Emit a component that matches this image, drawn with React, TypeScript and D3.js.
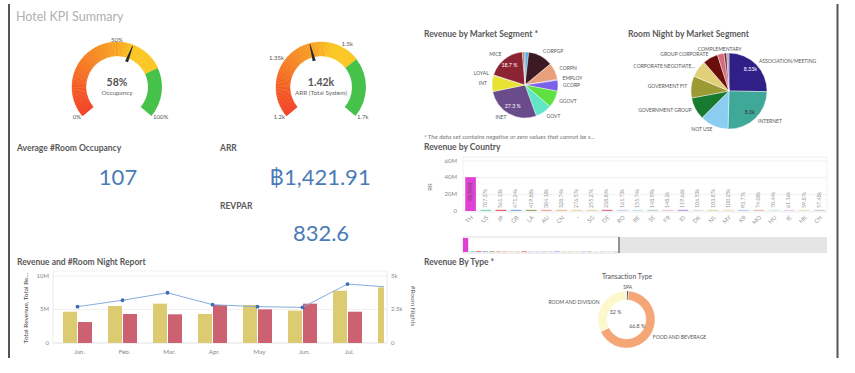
import React from 'react';
import * as d3 from 'd3';

const FONT = 'Lato, "Open Sans", "DejaVu Sans", sans-serif';
const TITLE = '#595959';

// ---------- Gauges ----------
const gaugeNames = ['Occupancy', 'ARR (Total System)'];
const gaugeValueLabels = ['58%', '1.42k'];
const gaugeMin = [0, 1200];
const gaugeMax = [1, 1700];
const gaugeValues = [0.58, 1421.91];
const gaugeGreenFrom = [0.75, 1550];
const gaugeTicks = [[0, 0.5, 1], [1200, 1350, 1500, 1700]];
const gaugeTickLabels = [['0%', '50%', '100%'], ['1.2k', '1.35k', '1.5k', '1.7k']];

// ---------- KPIs ----------
const kpiTitles = ['Average #Room Occupancy', 'ARR', 'REVPAR'];
const kpiValues = ['107', '฿1,421.91', '832.6'];

// ---------- Revenue by Market Segment ----------
const segNames = ['COMP', 'CORPGP', 'CORPN', 'EMPLOY', 'GCORP', 'GGOVT', 'GOVT', 'INET', 'INT', 'LOYAL', 'MICE', 'OTA', 'WALKIN'];
const segShare = [1.8, 12.2, 8.3, 0.4, 5.3, 8.3, 8.1, 27.3, 7.9, 0.3, 18.7, 0.8, 0.5];
const segColors = ['#50b0e8', '#3b1a23', '#e8a07a', '#a58ae6', '#7a61e8', '#60e040', '#60e6c6', '#6a4c8c', '#e8e232', '#d6cf54', '#8c2333', '#a35a32', '#8c8c8c'];
const segUnlabeled = ['COMP', 'OTA', 'WALKIN'];

// ---------- Room Night by Market Segment ----------
const rnNames = ['ASSOCIATION/MEETING', 'INTERNET', 'NOT USE', 'GOVERNMENT GROUP', 'GOVERMENT FIT', 'CORPORATE NEGOTIATE...', 'GROUP CORPORATE', 'COMPLEMENTARY', 'OTHER', 'WALK IN'];
const rnNights = [8330, 8300, 4000, 3130, 3060, 2400, 2130, 930, 370, 330];
const rnColors = ['#2f1f86', '#40a899', '#8acdf0', '#177a2f', '#9c9a32', '#e2cf7a', '#6a0e0c', '#d66a7e', '#7a1f45', '#a8a8a8'];
const rnUnlabeled = ['OTHER', 'WALK IN'];

// ---------- Revenue by Country ----------
const countries = ['TH', 'US', 'JP', 'GB', 'LA', 'AU', 'CN', '-', 'SG', 'DE', 'RO', 'BE', 'SE', 'FR', 'ID', 'DK', 'NL', 'MY', 'KR', 'MO', 'HU', 'IE', 'HK', 'CH'];
const countryRevenue = [40590000, 787370, 561130, 471240, 419880, 384180, 328740, 276570, 255270, 238840, 161730, 155740, 148590, 148200, 119660, 106530, 103870, 100250, 93770, 74080, 70440, 61160, 59870, 57480];
const countryColors = ['#e040d4', '#7fd8c0', '#e06060', '#80b0e0', '#a0a870', '#f0a8a0', '#f0c090', '#f0d8a8', '#e8d8b0', '#e07090', '#d8d0f0', '#c8e0f0', '#b8d8d0', '#f0c8d8', '#c0a0e0', '#e0e0e0', '#d0e8b0', '#f0e0c0', '#c0d0f0', '#e8c0b0', '#d0f0e0', '#f0d0f0', '#e0e8c0', '#d0d0d0'];
const countryTotalCount = 56;
const countryTicks = [0, 20e6, 40e6, 60e6];

// ---------- Revenue and #Room Night Report ----------
const months = ['Jan.', 'Feb.', 'Mar.', 'Apr.', 'May', 'Jun.', 'Jul.', 'Aug.'];
const totalRevenue = [4.67e6, 5.52e6, 5.87e6, 4.33e6, 5.67e6, 4.83e6, 7.8e6, 8.3e6];
const totalRevenue2 = [3.13e6, 4.33e6, 4.28e6, 5.67e6, 5.02e6, 5.87e6, 4.67e6, 4.5e6];
const roomNights = [2710, 3190, 3750, 2860, 2710, 2660, 4400, 4150];
const revTicks = [0, 5e6, 10e6];
const rnTicks = [0, 2500, 5000];

// ---------- Revenue By Type ----------
const typeNames = ['SPA', 'FOOD AND BEVERAGE', 'ROOM AND DIVISION'];
const typeShare = [1.2, 66.8, 32];
const typeColors = ['#4d5d75', '#f4a676', '#fdf7cc'];

const fmtShort = (v: number) => {
  const [d, s] = v >= 1e6 ? [1e6, 'M'] : [1e3, 'k'];
  return String(+(v / d).toFixed(2)) + s;
};

function Gauge({ i, cx, cy }: { i: number; cx: number; cy: number }) {
  const R = 45, r = 31;
  const a0 = (-130 * Math.PI) / 180, a1 = (130 * Math.PI) / 180;
  const mn = gaugeMin[i], mx = gaugeMax[i], g = gaugeGreenFrom[i];
  const ang = d3.scaleLinear().domain([mn, mx]).range([a0, a1]);
  const col = d3.scaleLinear<string>()
    .domain([mn, mn + 0.65 * (g - mn), mn + 0.8 * (g - mn), g])
    .range(['#f23a1e', '#f7a01d', '#fbc51c', '#fbc51c']);
  const arc = d3.arc();
  const N = 90;
  const steps = d3.range(N).map(k => mn + ((g - mn) * k) / N);
  const th = ang(gaugeValues[i]);
  const p = (rad: number, off: number) => {
    const x = cx + Math.sin(th) * rad + Math.cos(th) * off;
    const y = cy - Math.cos(th) * rad + Math.sin(th) * off;
    return `${x},${y}`;
  };
  const needle = [p(27, -1.6), p(44, -0.4), p(44, 0.4), p(27, 1.6)].join(' ');
  return (
    <g>
      {steps.map((v, k) => (
        <path key={k} transform={`translate(${cx},${cy})`} fill={col(v)} stroke={col(v)} strokeWidth={0.4}
          d={arc({ innerRadius: r, outerRadius: R, startAngle: ang(v), endAngle: ang(v + (g - mn) / N) } as any) as string} />
      ))}
      <path transform={`translate(${cx},${cy})`} fill="#46c24a"
        d={arc({ innerRadius: r, outerRadius: R, startAngle: ang(g), endAngle: ang(mx) } as any) as string} />
      <polygon points={needle} fill="#2b2b2b" />
      {gaugeTicks[i].map((t, k) => {
        const a = ang(t);
        const s = Math.sin(a);
        const x = cx + s * 47;
        const y = cy - Math.cos(a) * 47;
        const anchor = s > 0.15 ? 'start' : s < -0.15 ? 'end' : 'middle';
        return (
          <text key={k} x={x} y={y} textAnchor={anchor} dominantBaseline="middle" fontSize={6} fill="#555">
            {gaugeTickLabels[i][k]}
          </text>
        );
      })}
      <text x={cx} y={cy - 1} textAnchor="middle" fontSize={10.5} fontWeight={700} fill="#555">{gaugeValueLabels[i]}</text>
      <text x={cx} y={cy + 8} textAnchor="middle" fontSize={6.3} fill="#666">{gaugeNames[i]}</text>
    </g>
  );
}

function Pie({ cx, cy, R, inner, names, values, colors, hidden, labelR, insideR, insideFmt, insideColor }: any) {
  const arcs = d3.pie<number>().sort(null).value(d => d)(values);
  const arc = d3.arc();
  const total = d3.sum(values as number[]);
  return (
    <g>
      {arcs.map((a, k) => (
        <path key={k} transform={`translate(${cx},${cy})`} fill={colors[k]} stroke="#fff" strokeWidth={0.4}
          d={arc({ innerRadius: inner, outerRadius: R, startAngle: a.startAngle, endAngle: a.endAngle } as any) as string} />
      ))}
      {arcs.map((a, k) => {
        if (hidden.includes(names[k])) return null;
        const m = (a.startAngle + a.endAngle) / 2;
        const s = Math.sin(m);
        const x = cx + s * labelR;
        const y = cy - Math.cos(m) * labelR;
        const anchor = s > 0.25 ? 'start' : s < -0.25 ? 'end' : 'middle';
        return (
          <text key={'l' + k} x={x} y={y} textAnchor={anchor} dominantBaseline="middle" fontSize={5} fill="#555">{names[k]}</text>
        );
      })}
      {arcs.map((a, k) => {
        const v = values[k];
        if (v / total < 0.15) return null;
        const m = (a.startAngle + a.endAngle) / 2;
        return (
          <text key={'i' + k} x={cx + Math.sin(m) * insideR} y={cy - Math.cos(m) * insideR} textAnchor="middle"
            dominantBaseline="middle" fontSize={5.3} fill={insideColor(k)}>{insideFmt(v, total)}</text>
        );
      })}
    </g>
  );
}

function CountryChart() {
  const x = d3.scaleBand().domain(countries).range([463, 827]).paddingInner(0.3).paddingOuter(0.15);
  const y = d3.scaleLinear().domain([0, 60e6]).range([211, 161]);
  const mini = d3.scaleBand().domain(d3.range(countryTotalCount).map(String)).range([463, 827]).paddingInner(0.2);
  const my = d3.scaleLinear().domain([0, d3.max(countryRevenue) as number]).range([252, 238]);
  return (
    <g>
      <text x={424} y={150} fontSize={8.5} fontWeight={700} fill={TITLE}>Revenue by Country</text>
      <rect x={463} y={157} width={364} height={55} fill="none" stroke="#eeeeee" strokeWidth={0.8} />
      {countryTicks.map(t => (
        <g key={t}>
          <line x1={463} x2={827} y1={y(t)} y2={y(t)} stroke="#ececec" strokeWidth={0.8} />
          <text x={457} y={y(t)} textAnchor="end" dominantBaseline="middle" fontSize={6} fill="#888">{t === 0 ? '0' : t / 1e6 + 'M'}</text>
        </g>
      ))}
      <text transform="translate(432,187) rotate(-90)" textAnchor="middle" fontSize={6} fill="#777">RR</text>
      {countries.map((c, k) => {
        const v = countryRevenue[k];
        const h = Math.max(1.2, y(0) - y(v));
        const cxp = (x(c) as number) + x.bandwidth() / 2;
        const big = v > 10e6;
        return (
          <g key={c}>
            <rect x={x(c)} y={y(0) - h} width={x.bandwidth()} height={h} fill={countryColors[k]} />
            {big ? (
              <text transform={`translate(${cxp},${(y(0) + y(v)) / 2 - 2}) rotate(-90)`} textAnchor="middle" dominantBaseline="middle" fontSize={5.3} fill="#555">{fmtShort(v)}</text>
            ) : (
              <text transform={`translate(${cxp},${y(0) - 3}) rotate(-90)`} textAnchor="start" dominantBaseline="middle" fontSize={5.3} fill="#999">{fmtShort(v)}</text>
            )}
            <text transform={`translate(${cxp + 3},${218}) rotate(-45)`} textAnchor="end" fontSize={5.8} fill="#999">{c}</text>
          </g>
        );
      })}
      <rect x={463} y={237} width={364} height={16} fill="#e5e5e5" />
      <rect x={463} y={237} width={156} height={16} fill="#fff" stroke="#bbb" strokeWidth={0.5} />
      {countries.map((c, k) => {
        const v = countryRevenue[k];
        const h = Math.max(0.8, my(0) - my(v));
        return <rect key={'m' + c} x={mini(String(k))} y={my(0) - h} width={mini.bandwidth()} height={h} fill={countryColors[k]} />;
      })}
      <line x1={619} x2={619} y1={237} y2={253} stroke="#777" strokeWidth={1.5} />
    </g>
  );
}

function ComboChart() {
  const x = d3.scaleBand().domain(months).range([55, 415]);
  const yL = d3.scaleLinear().domain([0, 10e6]).range([343, 276]);
  const yR = d3.scaleLinear().domain([0, 5000]).range([343, 276]);
  const c = (m: string) => (x(m) as number) + x.bandwidth() / 2;
  const line = d3.line<number>().x((_, k) => c(months[k])).y(d => yR(d));
  return (
    <g>
      <text x={17} y={265} fontSize={8.5} fontWeight={700} fill={TITLE}>Revenue and #Room Night Report</text>
      <defs>
        <clipPath id="comboClip"><rect x={53} y={265} width={331} height={80} /></clipPath>
      </defs>
      <line x1={53} x2={387} y1={271} y2={271} stroke="#eeeeee" strokeWidth={0.8} />
      {revTicks.map(t => (
        <g key={t}>
          <line x1={53} x2={387} y1={yL(t)} y2={yL(t)} stroke={t === 0 ? '#dddddd' : '#ececec'} strokeWidth={0.8} />
          <text x={49} y={yL(t)} textAnchor="end" dominantBaseline="middle" fontSize={6} fill="#888">{t === 0 ? '0' : t / 1e6 + 'M'}</text>
        </g>
      ))}
      {rnTicks.map(t => (
        <text key={t} x={391} y={yR(t)} dominantBaseline="middle" fontSize={6} fill="#888">{t === 0 ? '0' : t / 1000 + 'k'}</text>
      ))}
      <line x1={53} x2={53} y1={271} y2={343} stroke="#e4e4e4" strokeWidth={0.8} />
      <line x1={387} x2={387} y1={271} y2={343} stroke="#e4e4e4" strokeWidth={0.8} />
      <g clipPath="url(#comboClip)">
        {months.map((m, k) => (
          <g key={m}>
            <rect x={c(m) - 14.5} y={yL(totalRevenue[k])} width={14} height={yL(0) - yL(totalRevenue[k])} fill="#dccb70" />
            <rect x={c(m) + 0.5} y={yL(totalRevenue2[k])} width={14} height={yL(0) - yL(totalRevenue2[k])} fill="#cc6171" />
          </g>
        ))}
        <path d={line(roomNights) as string} fill="none" stroke="#86acdb" strokeWidth={1} />
        {roomNights.map((v, k) => (
          <circle key={k} cx={c(months[k])} cy={yR(v)} r={1.9} fill="#3d6db5" />
        ))}
      </g>
      {months.slice(0, 7).map(m => (
        <text key={m} x={c(m) + 2} y={352} textAnchor="middle" dominantBaseline="middle" fontSize={6.3} fill="#888">{m}</text>
      ))}
      <text transform="translate(26,308) rotate(-90)" textAnchor="middle" dominantBaseline="middle" fontSize={6.5} fill="#444">Total Revenue, Total Re...</text>
      <text transform="translate(413,306) rotate(90)" textAnchor="middle" dominantBaseline="middle" fontSize={6.5} fill="#666">#Room Nights</text>
    </g>
  );
}

export default function App() {
  return (
    <svg width={855} height={373} style={{ position: 'absolute', left: 0, top: 0, background: '#fff', fontFamily: FONT }}>
      <rect x={0} y={0} width={855} height={373} fill="#fff" />
      <line x1={9} x2={9} y1={4} y2={358} stroke="#555" strokeWidth={2} />
      <line x1={837.5} x2={837.5} y1={4} y2={358} stroke="#555" strokeWidth={2} />
      <text x={16} y={21} fontSize={12.5} fill="#b0b0b0">Hotel KPI Summary</text>

      <Gauge i={0} cx={117} cy={87} />
      <Gauge i={1} cx={321} cy={87} />

      <text x={17} y={151} fontSize={8.5} fontWeight={700} fill={TITLE}>{kpiTitles[0]}</text>
      <text x={220} y={151} fontSize={8.5} fontWeight={700} fill={TITLE}>{kpiTitles[1]}</text>
      <text x={220} y={209} fontSize={8.5} fontWeight={700} fill={TITLE}>{kpiTitles[2]}</text>
      <text x={118} y={185} textAnchor="middle" fontSize={22} fontWeight={400} fill="#4a7bb7">{kpiValues[0]}</text>
      <text x={320} y={185} textAnchor="middle" fontSize={22} fontWeight={400} fill="#4a7bb7">{kpiValues[1]}</text>
      <text x={321} y={241} textAnchor="middle" fontSize={22} fontWeight={400} fill="#4a7bb7">{kpiValues[2]}</text>

      <text x={424} y={37} fontSize={8.5} fontWeight={700} fill={TITLE}>Revenue by Market Segment *</text>
      <Pie cx={525} cy={85} R={33} inner={0} names={segNames} values={segShare} colors={segColors} hidden={segUnlabeled}
        labelR={38} insideR={25} insideFmt={(v: number, t: number) => ((v / t) * 100).toFixed(1) + ' %'} insideColor={() => '#fff'} />
      <text x={424} y={139} fontSize={6.4} fontStyle="italic" fill="#777">* The data set contains negative or zero values that cannot be s...</text>

      <text x={628} y={37} fontSize={8.5} fontWeight={700} fill={TITLE}>Room Night by Market Segment</text>
      <Pie cx={729} cy={91} R={38} inner={0} names={rnNames} values={rnNights} colors={rnColors} hidden={rnUnlabeled}
        labelR={42} insideR={30} insideFmt={(v: number) => fmtShort(v)} insideColor={(k: number) => (k === 0 ? '#fff' : '#333')} />

      <CountryChart />
      <ComboChart />

      <text x={424} y={265} fontSize={8.5} fontWeight={700} fill={TITLE}>Revenue By Type *</text>
      <text x={627} y={279} textAnchor="middle" fontSize={6.8} fill="#555">Transaction Type</text>
      <Pie cx={626.5} cy={319.5} R={28.5} inner={19.5} names={typeNames} values={typeShare} colors={typeColors} hidden={[]}
        labelR={32} insideR={13} insideFmt={(v: number, t: number) => ((v / t) * 100).toFixed(1).replace('.0', '') + ' %'} insideColor={() => '#555'} />
    </svg>
  );
}
